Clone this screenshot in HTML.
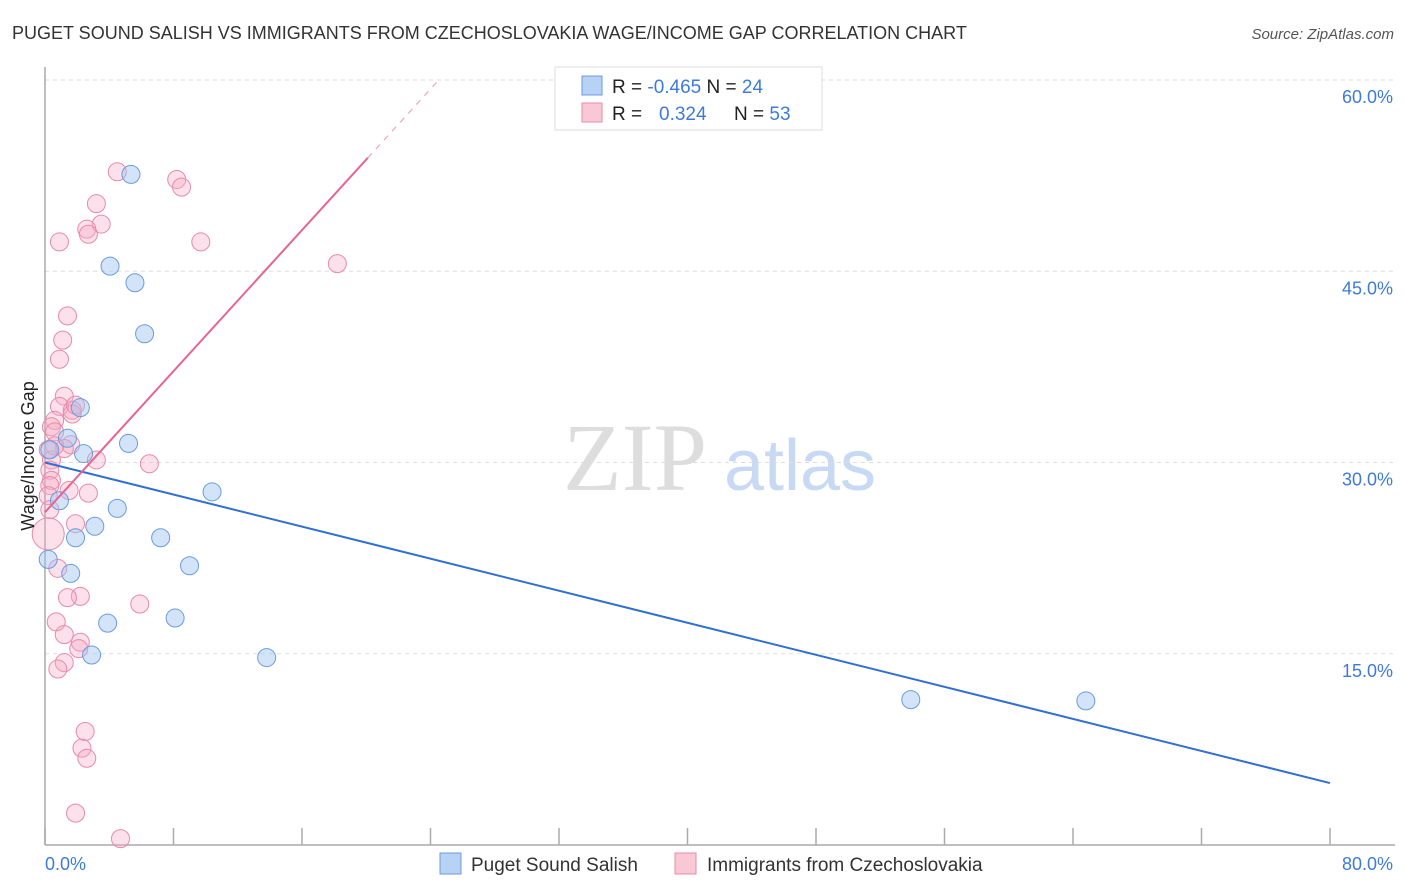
<!DOCTYPE html>
<html><head><meta charset="utf-8"><style>
body{margin:0;background:#fff;font-family:"Liberation Sans",sans-serif;}
svg{display:block}
</style></head><body>
<svg width="1406" height="892" xmlns="http://www.w3.org/2000/svg">
<text x="12" y="39" font-size="18" fill="#333">PUGET SOUND SALISH VS IMMIGRANTS FROM CZECHOSLOVAKIA WAGE/INCOME GAP CORRELATION CHART</text>
<text x="1394" y="39" font-size="15" fill="#555" font-style="italic" text-anchor="end">Source: ZipAtlas.com</text>
<g>
<text x="635" y="490" font-size="96" font-family="Liberation Serif,serif" fill="#ddd" text-anchor="middle">ZIP</text>
<text x="800" y="490" font-size="72" fill="#c8daf3" text-anchor="middle">atlas</text>
</g>
<g id="grid"></g>
<g id="axes"></g>
<g id="marks"></g>
<text transform="translate(34,456) rotate(-90)" font-size="18" fill="#222" text-anchor="middle">Wage/Income Gap</text>
<g>
<rect x="555" y="67" width="267" height="63" fill="#fff" stroke="#ddd"/>
<rect x="582" y="76" width="20" height="19" fill="#b8d2f5" stroke="#6a9be0"/>
<text x="612" y="93" font-size="19" fill="#222">R = <tspan fill="#3d7bd9">-0.465</tspan>   N = <tspan fill="#3d7bd9">24</tspan></text>
<rect x="582" y="103" width="20" height="19" fill="#f9c8d6" stroke="#e88aa8"/>
<text x="612" y="120" font-size="19" fill="#222">R = <tspan fill="#3d7bd9" x="659">0.324</tspan><tspan x="734">N = </tspan><tspan fill="#3d7bd9">53</tspan></text>
</g>
<g>
<rect x="440" y="853" width="21" height="21" fill="#b8d2f5" stroke="#6a9be0"/>
<text x="471" y="871" font-size="19" fill="#333">Puget Sound Salish</text>
<rect x="675" y="853" width="21" height="21" fill="#f9c8d6" stroke="#e88aa8"/>
<text x="707" y="871" font-size="19" fill="#333">Immigrants from Czechoslovakia</text>
</g>
</svg>
<script>
const yTicks=[15,30,45,60];
const yTickLabels=["15.0%","30.0%","45.0%","60.0%"];
const xEndLabels=["0.0%","80.0%"];
const blueX=[5.35,4.05,5.6,6.2,2.2,1.4,2.4,5.2,0.3,0.9,4.5,10.4,3.1,1.9,7.2,0.2,1.6,9.0,8.1,3.9,2.9,13.8,53.9,64.8];
const blueY=[52.6,45.4,44.1,40.1,34.3,31.9,30.7,31.5,31.0,27.0,26.4,27.7,25.0,24.1,24.1,22.4,21.3,21.9,17.8,17.4,14.9,14.7,11.4,11.3];
const pinkX=[4.5,8.2,8.5,3.2,3.5,2.6,2.7,0.9,9.7,18.2,1.4,1.1,0.9,1.2,0.9,1.7,1.7,0.6,0.4,0.6,1.6,1.2,3.2,6.5,0.4,0.3,0.4,0.3,1.5,2.7,0.2,0.3,1.9,0.2,0.8,2.2,1.4,5.9,0.7,1.2,2.2,2.1,1.2,0.8,2.5,2.3,2.6,1.9,4.7,0.6,1.9,0.2];
const pinkY=[52.8,52.2,51.6,50.3,48.7,48.3,47.9,47.3,47.3,45.6,41.5,39.6,38.1,35.2,34.4,34.1,33.8,33.3,32.8,32.4,31.4,31.1,30.2,29.9,30.2,29.4,28.6,28.2,27.8,27.6,27.4,26.3,25.2,24.4,21.7,19.5,19.4,18.9,17.5,16.5,15.9,15.4,14.3,13.8,8.9,7.6,6.8,2.5,0.5,31.3,34.5,31.0];
const blueTrend=[30.0,4.86];
const pinkTrend=[26.1,1.383];
const NS="http://www.w3.org/2000/svg";
const X0=45,X1=1330,Y0=845,YTOP=80;
function sx(v){return X0+(X1-X0)*v/80;}
function sy(v){return Y0-(Y0-YTOP)*v/60;}
function mk(tag,attrs,parent){const e=document.createElementNS(NS,tag);for(const k in attrs)e.setAttribute(k,attrs[k]);parent.appendChild(e);return e;}
const grid=document.getElementById('grid'),axes=document.getElementById('axes'),marks=document.getElementById('marks');
yTicks.forEach((t,i)=>{
 const l=mk('line',{x1:X0,x2:1395,y1:sy(t),y2:sy(t),stroke:'#ddd','stroke-dasharray':'4,4'},grid);
 
 
 const tx=mk('text',{x:1393,y:sy(t)+23,'font-size':18,fill:'#3d7bd9','text-anchor':'end'},axes);
 tx.textContent=yTickLabels[i];
 
 
});
const ya=mk('line',{x1:X0,x2:X0,y1:67,y2:Y0,stroke:'#aaa','stroke-width':1.5},axes);


const xa=mk('line',{x1:X0,x2:1395,y1:Y0,y2:Y0,stroke:'#aaa','stroke-width':1.5},axes);


for(let i=0;i<=10;i++){
 const tk=mk('line',{x1:sx(i*8),x2:sx(i*8),y1:Y0-17,y2:Y0,stroke:'#aaa','stroke-width':1.5},axes);
 
 
}
const xl0=mk('text',{x:45,y:870,'font-size':18,fill:'#3d7bd9'},axes);xl0.textContent=xEndLabels[0];


const xl1=mk('text',{x:1393,y:870,'font-size':18,fill:'#3d7bd9','text-anchor':'end'},axes);xl1.textContent=xEndLabels[1];


pinkX.forEach((x,i)=>{
 const c=mk('circle',{cx:sx(x),cy:sy(pinkY[i]),r:(i==33?16:9),fill:'rgba(245,170,195,0.35)',stroke:'#e88aa8','stroke-width':1},marks);
 
 
});
blueX.forEach((x,i)=>{
 const c=mk('circle',{cx:sx(x),cy:sy(blueY[i]),r:9,fill:'rgba(160,195,240,0.45)',stroke:'#6a9be0','stroke-width':1},marks);
 
 
});
const bt=mk('line',{x1:sx(0),y1:sy(blueTrend[0]),x2:sx(80),y2:sy(blueTrend[0]+(blueTrend[1]-blueTrend[0])),stroke:'#2f6fd6','stroke-width':2},marks);
bt.setAttribute('x2',sx(80));bt.setAttribute('y2',sy(blueTrend[1]));


const pEnd=20.1,pMax=(60-pinkTrend[0])/pinkTrend[1];
const pt=mk('line',{x1:sx(0),y1:sy(pinkTrend[0]),x2:sx(pEnd),y2:sy(pinkTrend[0]+pinkTrend[1]*pEnd),stroke:'#e8648f','stroke-width':2},marks);


const pd=mk('line',{x1:sx(pEnd),y1:sy(pinkTrend[0]+pinkTrend[1]*pEnd),x2:sx(pMax),y2:sy(60),stroke:'#f0a5bd','stroke-width':1.2,'stroke-dasharray':'6,6'},marks);


</script>
</body></html>
